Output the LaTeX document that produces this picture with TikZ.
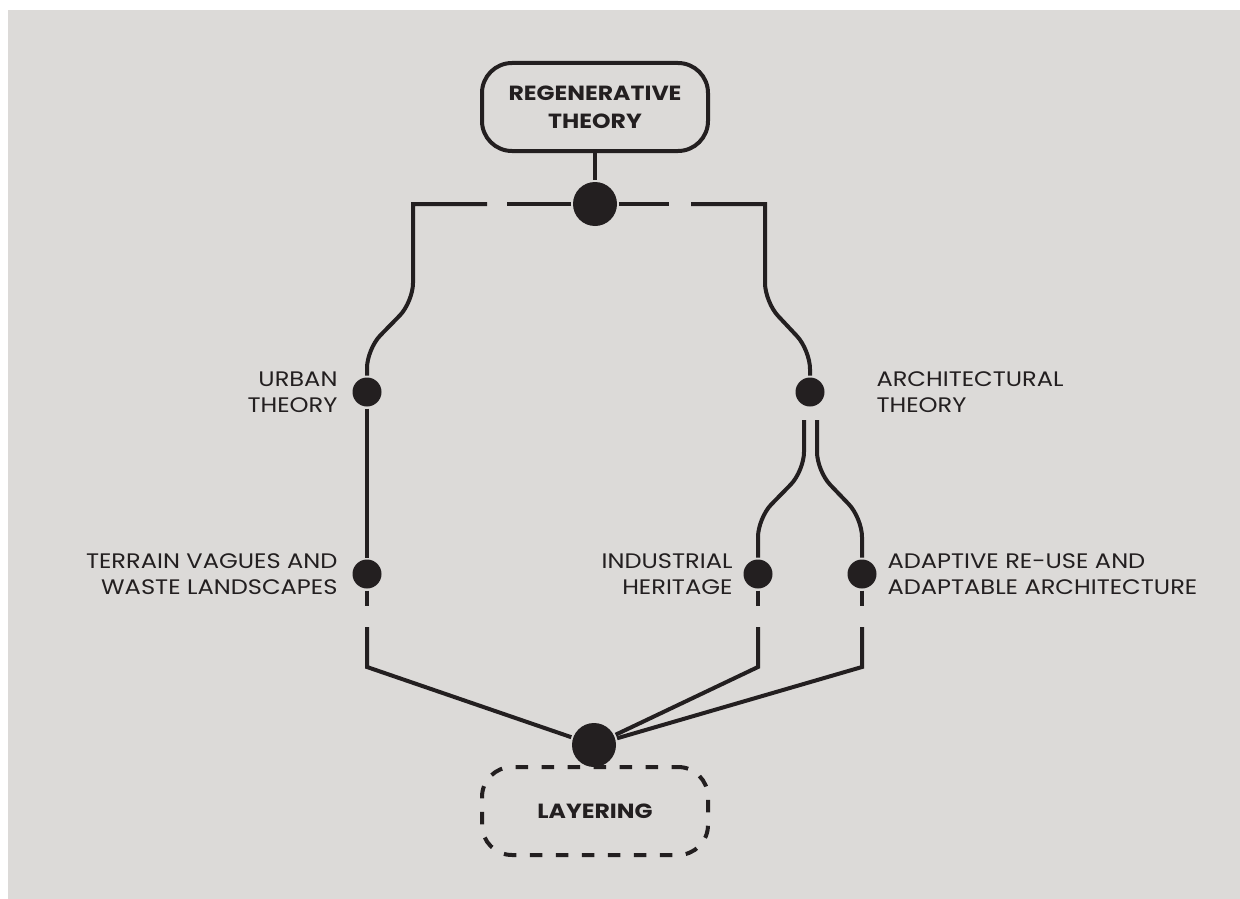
\documentclass[tikz,border=0pt]{standalone}
\usepackage{fontspec}
\setmainfont{Poppins}[FakeStretch=1.15]
\usepackage{xcolor}
\usetikzlibrary{positioning}

\definecolor{ink}{HTML}{231F20}
\definecolor{paper}{HTML}{DCDAD8}

\begin{document}
\begin{tikzpicture}[x=1pt,y=-1pt,color=ink,line width=4pt,
    theory/.style={draw,rounded corners=30pt,minimum width=226pt,minimum height=88pt,
        align=center,font=\bfseries\fontsize{20.5}{28}\selectfont},
    hub/.style={circle,fill,minimum size=44pt,inner sep=0pt},
    dot/.style={circle,fill,minimum size=29pt,inner sep=0pt},
    tag/.style={inner sep=0pt,font=\fontsize{21}{26}\selectfont}]

\useasboundingbox (0,0) rectangle (1240,899);
\fill[paper] (8,10) rectangle (1240,899);

\node[theory] (regen) at (595,107) {REGENERATIVE\\THEORY};
\node[theory,dash pattern=on 12.5pt off 13.5pt,dash phase=6pt] (layering) at (595,811) {LAYERING};

\node[hub] (top) at (595,204) {};
\node[hub] (bottom) at (594,745) {};

\node[dot] (urban) at (367,392) {};
\node[dot] (arch) at (810,392) {};
\node[dot] (terrain) at (367,574) {};
\node[dot] (industrial) at (758,574) {};
\node[dot] (adaptive) at (862,574) {};

\node[tag,align=right,left=11pt of urban] {URBAN\\THEORY};
\node[tag,align=left,right=48pt of arch] {ARCHITECTURAL\\THEORY};
\node[tag,align=right,left=11pt of terrain] {TERRAIN VAGUES AND\\WASTE LANDSCAPES};
\node[tag,align=right,left=7pt of industrial] {INDUSTRIAL\\HERITAGE};
\node[tag,align=left,right=7pt of adaptive] {ADAPTIVE RE-USE AND\\ADAPTABLE ARCHITECTURE};

\coordinate (lcorner) at (413,204);
\coordinate (rcorner) at (765,204);
\coordinate (lgapA) at (487,204);
\coordinate (lgapB) at (507,204);
\coordinate (rgapA) at (669,204);
\coordinate (rgapB) at (691,204);

\draw (regen) -- (top);
\draw (top) -- (lgapB);
\draw (top) -- (rgapA);
\draw (lgapA) -- (lcorner) -- (413,250) [rounded corners=19pt] -- (413,302) -- (367,349) -- (urban);
\draw (rgapB) -- (rcorner) -- (765,250) [rounded corners=19pt] -- (765,302) -- (810,350) -- (arch);

\draw (urban) -- (terrain);
\draw[rounded corners=19pt] (804,420) -- (804,471) -- (758,518) -- (industrial);
\draw[rounded corners=19pt] (817,420) -- (817,471) -- (862,518) -- (adaptive);

\foreach \n/\x in {terrain/367,industrial/758,adaptive/862} {
    \draw (\n) -- (\x,606);
    \draw (\x,627) -- (\x,667) -- (bottom);
}
\end{tikzpicture}
\end{document}
